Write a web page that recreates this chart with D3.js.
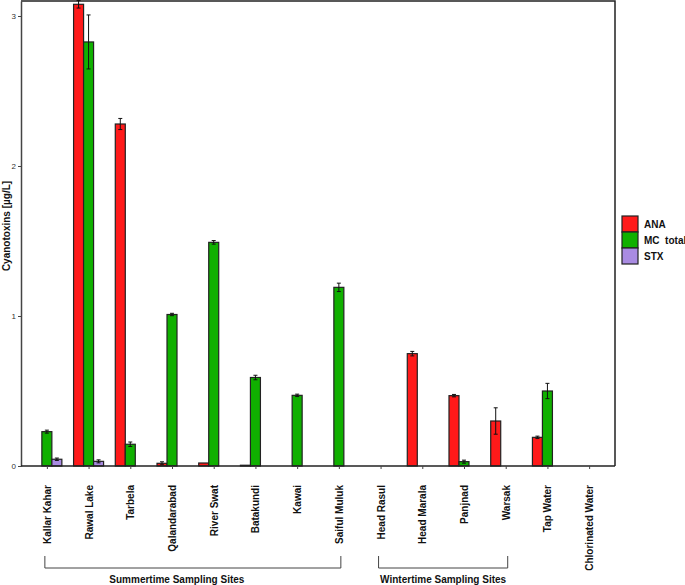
<!DOCTYPE html>
<html>
<head>
<meta charset="utf-8">
<script src="https://cdn.jsdelivr.net/npm/d3@7"></script>
<style>
  body { margin: 0; background: #fff; }
  svg { font-family: "Liberation Sans", Arial, Helvetica, sans-serif; }
  .ytick { font-size: 8px; fill: #333; }
  .lbl { font-weight: bold; font-size: 10px; fill: #111; }
</style>
</head>
<body>
<div id="chart"></div>
<script>
// sampling sites
var sites = ["Kallar Kahar", "Rawal Lake", "Tarbela", "Qalandarabad", "River Swat", "Batakundi", "Kawai",
             "Saiful Muluk", "Head Rasul", "Head Marala", "Panjnad", "Warsak", "Tap Water", "Chlorinated Water"];
var toxins = ["ANA", "MC  total", "STX"];
var toxinColors = ["#ff1a1a", "#10b000", "#a98be2"];

// mean values (µg/L) and error bars
var anaValues = [0, 3.078, 2.28, 0.018, 0.02, 0.005, 0, 0, 0, 0.749, 0.469, 0.30, 0.191, 0];
var anaErrors = [0, 0.025, 0.037, 0.01, 0, 0, 0, 0, 0, 0.015, 0.008, 0.088, 0.008, 0];
var mcValues  = [0.229, 2.827, 0.145, 1.01, 1.491, 0.59, 0.471, 1.191, 0, 0, 0.029, 0, 0.50, 0];
var mcErrors  = [0.01, 0.18, 0.015, 0.008, 0.012, 0.015, 0.008, 0.028, 0, 0, 0.01, 0, 0.051, 0];
var stxValues = [0.045, 0.031, 0, 0, 0, 0, 0, 0, 0, 0, 0, 0, 0, 0];
var stxErrors = [0.008, 0.01, 0, 0, 0, 0, 0, 0, 0, 0, 0, 0, 0, 0];
var yTicks = [0, 1, 2, 3];

// groups shown with brackets under the axis
var groups = [
  {name: "Summertime Sampling Sites", from: "Kallar Kahar", to: "Saiful Muluk"},
  {name: "Wintertime Sampling Sites", from: "Head Rasul", to: "Warsak"}
];

var width = 685, height = 585;
var margin = {top: 1, right: 70, bottom: 119, left: 21};

var svg = d3.select("#chart").append("svg")
  .attr("width", width)
  .attr("height", height);

var x = d3.scalePoint()
  .domain(sites)
  .range([margin.left, width - margin.right])
  .padding(0.62);

var x1 = d3.scaleBand()
  .domain(toxins)
  .range([-15, 15]);

var y = d3.scaleLinear()
  .domain([0, 3.1])
  .range([height - margin.bottom, margin.top]);

var color = d3.scaleOrdinal().domain(toxins).range(toxinColors);

var series = [
  {key: toxins[0], values: anaValues, errors: anaErrors},
  {key: toxins[1], values: mcValues, errors: mcErrors},
  {key: toxins[2], values: stxValues, errors: stxErrors}
];

// frame (top + right)
svg.append("path")
  .attr("d", "M" + margin.left + "," + margin.top + "H" + (width - margin.right) + "V" + (height - margin.bottom))
  .attr("fill", "none")
  .attr("stroke", "#222")
  .attr("stroke-width", 1.5);

// bars
series.forEach(function(s) {
  var data = sites.map(function(site, i) {
    return {site: site, value: s.values[i], err: s.errors[i]};
  }).filter(function(d) { return d.value > 0; });

  svg.append("g").selectAll("rect")
    .data(data)
    .enter().append("rect")
    .attr("x", function(d) { return x(d.site) + x1(s.key); })
    .attr("width", x1.bandwidth())
    .attr("y", function(d) { return y(d.value); })
    .attr("height", function(d) { return y(0) - y(d.value); })
    .attr("fill", color(s.key))
    .attr("stroke", "#222")
    .attr("stroke-width", 1.2);

  var eb = svg.append("g").selectAll("g")
    .data(data.filter(function(d) { return d.err > 0; }))
    .enter().append("g")
    .attr("stroke", "#111")
    .attr("stroke-width", 1);

  eb.append("line")
    .attr("x1", function(d) { return x(d.site) + x1(s.key) + x1.bandwidth() / 2; })
    .attr("x2", function(d) { return x(d.site) + x1(s.key) + x1.bandwidth() / 2; })
    .attr("y1", function(d) { return y(d.value + d.err); })
    .attr("y2", function(d) { return y(d.value - d.err); });

  [1, -1].forEach(function(sign) {
    eb.append("line")
      .attr("x1", function(d) { return x(d.site) + x1(s.key) + x1.bandwidth() / 2 - 2; })
      .attr("x2", function(d) { return x(d.site) + x1(s.key) + x1.bandwidth() / 2 + 2; })
      .attr("y1", function(d) { return y(d.value + sign * d.err); })
      .attr("y2", function(d) { return y(d.value + sign * d.err); });
  });
});

// axes
var yAxis = svg.append("g")
  .attr("transform", "translate(" + margin.left + ",0)")
  .call(d3.axisLeft(y).tickValues(yTicks).tickFormat(d3.format("d")).tickSize(3).tickPadding(2).tickSizeOuter(0));
yAxis.select(".domain").attr("stroke", "#444").attr("stroke-width", 1.5);
yAxis.selectAll(".tick line").attr("stroke", "#444");
yAxis.selectAll(".tick text").attr("class", "ytick");

var xAxis = svg.append("g")
  .attr("transform", "translate(0," + y(0) + ")")
  .call(d3.axisBottom(x).tickSize(3).tickSizeOuter(0));
xAxis.select(".domain")
  .attr("d", "M" + margin.left + ",0H" + (width - margin.right))
  .attr("stroke", "#222").attr("stroke-width", 1.5);
xAxis.selectAll(".tick line").attr("stroke", "#444");
xAxis.selectAll(".tick text")
  .attr("class", "lbl")
  .attr("transform", "rotate(-90)")
  .attr("text-anchor", "end")
  .attr("x", -19)
  .attr("y", 0)
  .attr("dy", "0.35em");

// y label
svg.append("text")
  .attr("class", "lbl")
  .attr("transform", "translate(10,226) rotate(-90)")
  .attr("text-anchor", "middle")
  .text("Cyanotoxins [µg/L]");

// brackets
var bracket = svg.append("g").selectAll("g")
  .data(groups)
  .enter().append("g");

bracket.append("path")
  .attr("d", function(g) {
    var a = x(g.from) - 2, b = x(g.to) + 2;
    return "M" + a + ",556V568H" + b + "V556";
  })
  .attr("fill", "none")
  .attr("stroke", "#444")
  .attr("stroke-width", 1);

// summertime label sits a bit left of its bracket centre in the original
bracket.append("text")
  .attr("class", "lbl")
  .attr("x", function(g) { return (x(g.from) + x(g.to)) / 2; })
  .attr("dx", function(g, i) { return i === 0 ? -16 : 0; })
  .attr("y", 583)
  .attr("text-anchor", "middle")
  .text(function(g) { return g.name; });

// legend
var legendSize = 16;
var legend = svg.append("g").selectAll(".legend")
  .data(toxins)
  .enter().append("g")
  .attr("class", "legend")
  .attr("transform", function(d, i) { return "translate(622," + (216 + i * legendSize) + ")"; });

legend.append("rect")
  .attr("width", legendSize)
  .attr("height", legendSize)
  .attr("fill", color)
  .attr("stroke", "#222")
  .attr("stroke-width", 1.2);

legend.append("text")
  .attr("class", "lbl")
  .attr("x", 22)
  .attr("y", legendSize / 2)
  .attr("dy", "0.35em")
  .style("white-space", "pre")
  .text(function(d) { return d; });
</script>
</body>
</html>
